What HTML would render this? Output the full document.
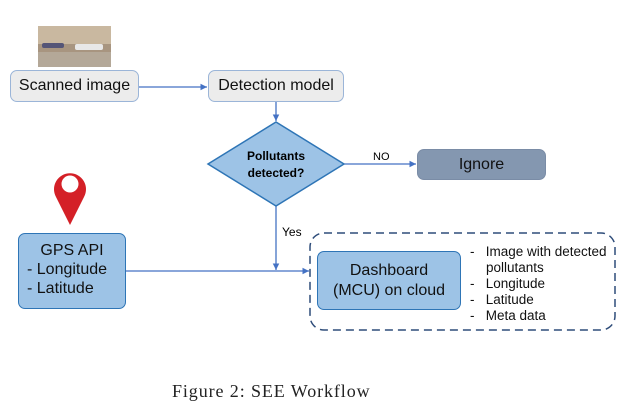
<!DOCTYPE html>
<html><head><style>
body{margin:0;background:#fff;width:642px;height:410px;overflow:hidden;position:relative;font-family:"Liberation Sans",sans-serif}
.b{position:absolute;box-sizing:border-box;border-radius:7px;display:flex;align-items:center;justify-content:center;text-align:center;color:#111}
</style></head><body>
<svg width="642" height="410" style="position:absolute;left:0;top:0">
<defs><marker id="a" markerWidth="6" markerHeight="6" refX="5" refY="3" orient="auto"><path d="M0,0.5 L5,3 L0,5.5z" fill="#4472c4"/></marker></defs>
<rect x="38" y="26" width="73" height="41" fill="#a89580"/>
<rect x="38" y="26" width="73" height="18" fill="#c9b8a0"/>
<rect x="38" y="52" width="73" height="15" fill="#b4a898"/>
<rect x="75" y="44" width="28" height="6" rx="2" fill="#e8e8e8"/>
<rect x="42" y="43" width="22" height="5" rx="2" fill="#557"/>
<g stroke="#4472c4" stroke-width="1.3" fill="none">
<line x1="139" y1="87" x2="207" y2="87" marker-end="url(#a)"/>
<line x1="276" y1="102" x2="276" y2="121" marker-end="url(#a)"/>
<line x1="344" y1="164" x2="416" y2="164" marker-end="url(#a)"/>
<line x1="276" y1="206" x2="276" y2="270" marker-end="url(#a)"/>
<line x1="126" y1="271" x2="309" y2="271" marker-end="url(#a)"/>
</g>
<polygon points="276,122 344,164 276,206 208,164" fill="#9dc3e6" stroke="#2e75b6" stroke-width="1.5"/>
<text x="276" y="160" text-anchor="middle" font-size="12" font-weight="bold" font-family="Liberation Sans,sans-serif">Pollutants</text>
<text x="276" y="177" text-anchor="middle" font-size="12" font-weight="bold" font-family="Liberation Sans,sans-serif">detected?</text>
<text x="373" y="160" font-size="11" font-family="Liberation Sans,sans-serif">NO</text>
<text x="282" y="236" font-size="12" font-family="Liberation Sans,sans-serif">Yes</text>
<rect x="310" y="233" width="305" height="97" rx="14" fill="none" stroke="#2f4d7a" stroke-width="1.5" stroke-dasharray="8,5"/>
<path d="M70,225 L56,197 A16,16 0 1 1 84,197 Z" fill="#d42027"/>
<circle cx="70" cy="184" r="8.5" fill="#fff"/>
<text x="172" y="397" font-size="18" letter-spacing="0.9" font-family="Liberation Serif,serif" fill="#222">Figure 2: SEE Workflow</text>
</svg>
<div class="b" style="left:10px;top:70px;width:129px;height:32px;background:#ececec;border:1px solid #9bb5d8;font-size:16px">Scanned image</div>
<div class="b" style="left:208px;top:70px;width:136px;height:32px;background:#ececec;border:1px solid #9bb5d8;font-size:16px">Detection model</div>
<div class="b" style="left:417px;top:149px;width:129px;height:31px;background:#8497b0;border:1px solid #7a8ca6;font-size:16px">Ignore</div>
<div class="b" style="left:18px;top:233px;width:108px;height:76px;background:#9dc3e6;border:1.5px solid #2e75b6;font-size:16px;line-height:19px;display:block;padding-top:7px">GPS API<div style="text-align:left;padding-left:8px">- Longitude<br>- Latitude</div></div>
<div class="b" style="left:317px;top:251px;width:144px;height:59px;background:#9dc3e6;border:1.5px solid #2e75b6;font-size:16px;line-height:20px">Dashboard<br>(MCU) on cloud</div>
<div style="position:absolute;left:470px;top:244px;font-size:13.5px;line-height:16px;color:#111">
<div>-&nbsp;&nbsp; Image with detected</div><div style="padding-left:16px">pollutants</div>
<div>-&nbsp;&nbsp; Longitude</div><div>-&nbsp;&nbsp; Latitude</div><div>-&nbsp;&nbsp; Meta data</div></div>
</body></html>
